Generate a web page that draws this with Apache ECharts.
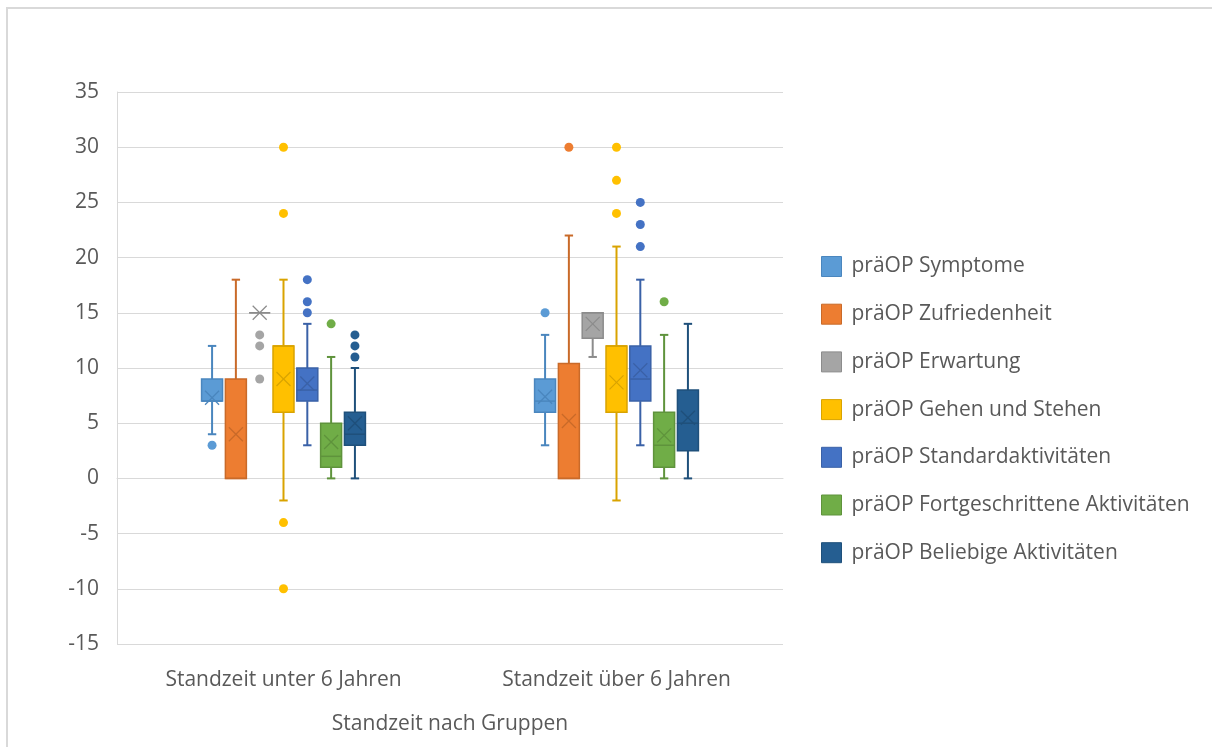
<!DOCTYPE html>
<html>
<head>
<meta charset="utf-8">
<script src="https://cdn.jsdelivr.net/npm/echarts@6/dist/echarts.min.js"></script>
<style>
html,body{margin:0;padding:0;background:#fff;}
#chart{width:1212px;height:747px;}
</style>
</head>
<body>
<div id="chart"></div>
<script>
const categories = ['Standzeit unter 6 Jahren', 'Standzeit über 6 Jahren'];
const seriesNames = ['präOP Symptome', 'präOP Zufriedenheit', 'präOP Erwartung', 'präOP Gehen und Stehen',
  'präOP Standardaktivitäten', 'präOP Fortgeschrittene Aktivitäten', 'präOP Beliebige Aktivitäten'];
// [series][group]
const whiskerLow  = [[4, 3], [0, 0], [15, 11], [-2, -2], [3, 3], [0, 0], [0, 0]];
const quartile1   = [[7, 6], [0, 0], [15, 12.7], [6, 6], [7, 7], [1, 1], [3, 2.5]];
const medians     = [[7, 7], [0, 0], [15, 15], [12, 12], [8, 9], [2, 3], [4, 5]];
const quartile3   = [[9, 9], [9, 10.4], [15, 15], [12, 12], [10, 12], [5, 6], [6, 8]];
const whiskerHigh = [[12, 13], [18, 22], [15, 15], [18, 21], [14, 18], [11, 13], [10, 14]];
const means       = [[7.3, 7.4], [4, 5.2], [15, 14], [9, 8.7], [8.6, 9.8], [3.3, 3.9], [5, 5.5]];
const outliers    = [[[3], [15]], [[], [30]], [[13, 12, 9], []], [[30, 24, -4, -10], [30, 27, 24]],
  [[18, 16, 15], [25, 23, 21]], [[14], [16]], [[13, 12, 11], []]];

const fills   = ['#5B9BD5', '#ED7D31', '#A5A5A5', '#FFC000', '#4472C4', '#70AD47', '#255E91'];
const borders = ['#4A86BE', '#C96A29', '#8C8C8C', '#D9A300', '#3A61A7', '#5F933C', '#1F507B'];
const FONT = '"Open Sans", sans-serif';
const FS = 21;
const SPACING = 0.0715, BOXW = 0.063;

function makeRender(s) {
  return function (params, api) {
    const cat = api.value(0);
    const c = api.coord([cat, 0])[0];
    const band = api.size([1, 0])[0];
    const x = c + (s - 3) * band * SPACING;
    const w = band * BOXW;
    const y = v => api.coord([cat, v])[1];
    const lo = api.value(1), a = api.value(2), md = api.value(3), b = api.value(4), hi = api.value(5), mn = api.value(6);
    const ls = { stroke: borders[s], lineWidth: 2 };
    const cap = w * 0.2;
    const ch = [];
    ch.push({ type: 'line', shape: { x1: x, y1: y(hi), x2: x, y2: y(b) }, style: ls });
    ch.push({ type: 'line', shape: { x1: x, y1: y(lo), x2: x, y2: y(a) }, style: ls });
    if (hi > b) ch.push({ type: 'line', shape: { x1: x - cap, y1: y(hi), x2: x + cap, y2: y(hi) }, style: ls });
    if (lo < a) ch.push({ type: 'line', shape: { x1: x - cap, y1: y(lo), x2: x + cap, y2: y(lo) }, style: ls });
    ch.push({ type: 'rect', shape: { x: x - w / 2, y: y(b), width: w, height: y(a) - y(b) },
      style: { fill: fills[s], stroke: borders[s], lineWidth: 1.5 } });
    ch.push({ type: 'line', shape: { x1: x - w / 2, y1: y(md), x2: x + w / 2, y2: y(md) },
      style: { stroke: borders[s], lineWidth: 1.5 } });
    const my = y(mn), hs = 7;
    ch.push({ type: 'line', shape: { x1: x - hs, y1: my - hs, x2: x + hs, y2: my + hs }, style: { stroke: borders[s], lineWidth: 1.3 } });
    ch.push({ type: 'line', shape: { x1: x - hs, y1: my + hs, x2: x + hs, y2: my - hs }, style: { stroke: borders[s], lineWidth: 1.3 } });
    (outliers[s][params.dataIndex] || []).forEach(v => {
      ch.push({ type: 'circle', shape: { cx: x, cy: y(v), r: 4.5 }, style: { fill: fills[s] } });
    });
    return { type: 'group', children: ch };
  };
}

const series = seriesNames.map((name, s) => ({
  name: name,
  type: 'custom',
  renderItem: makeRender(s),
  itemStyle: { color: fills[s], borderColor: borders[s], borderWidth: 1 },
  encode: { x: 0, y: [1, 2, 3, 4, 5, 6] },
  data: categories.map((c, g) => [g, whiskerLow[s][g], quartile1[s][g], medians[s][g], quartile3[s][g], whiskerHigh[s][g], means[s][g]])
}));

const chart = echarts.init(document.getElementById('chart'), null, { renderer: 'canvas' });
chart.setOption({
  animation: false,
  backgroundColor: '#ffffff',
  graphic: [{ type: 'rect', shape: { x: 7, y: 8, width: 1300, height: 900 }, style: { fill: 'none', stroke: '#D9D9D9', lineWidth: 2 }, silent: true }],
  grid: { left: 117, right: 429, top: 92, bottom: 103 },
  legend: {
    orient: 'vertical', left: 821, top: 256, padding: 0, itemWidth: 20, itemHeight: 20, itemGap: 26.7,
    textStyle: { color: '#595959', fontSize: FS, lineHeight: 20, fontFamily: FONT, padding: [0, 0, 0, 5] },
    data: seriesNames.map((n, s) => ({ name: n, icon: 'rect', itemStyle: { color: fills[s], borderColor: borders[s], borderWidth: 1 } }))
  },
  xAxis: {
    type: 'category', data: categories,
    name: 'Standzeit nach Gruppen', nameLocation: 'middle', nameGap: 70,
    nameTextStyle: { color: '#595959', fontSize: FS, fontFamily: FONT },
    axisLine: { show: true, lineStyle: { color: '#D9D9D9', width: 1 } },
    axisTick: { show: false },
    axisLabel: { color: '#595959', fontSize: FS, fontFamily: FONT, margin: 26 }
  },
  yAxis: {
    type: 'value', min: -15, max: 35, interval: 5,
    axisLine: { show: true, lineStyle: { color: '#D9D9D9', width: 1 } },
    axisTick: { show: false },
    splitLine: { lineStyle: { color: '#D9D9D9', width: 1 } },
    axisLabel: { color: '#595959', fontSize: FS, fontFamily: FONT, margin: 18 }
  },
  series: series
});
</script>
</body>
</html>
